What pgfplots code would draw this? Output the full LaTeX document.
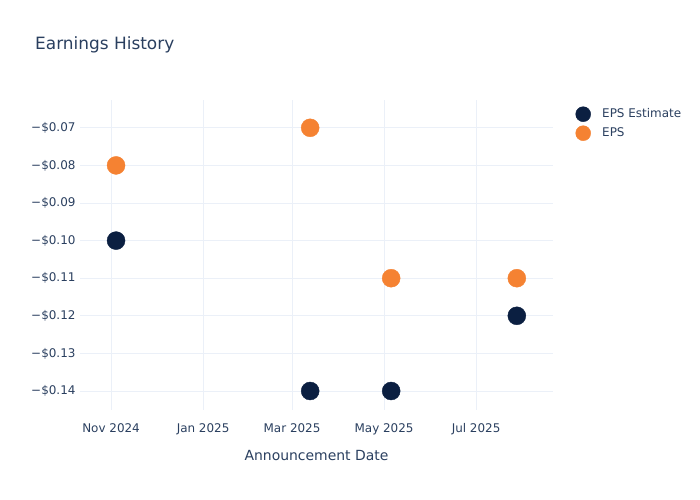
\documentclass[border=0pt]{standalone}
\usepackage{pgfplots}
\pgfplotsset{compat=1.18}
\usepackage{fontspec}
\setmainfont{DejaVu Sans}
\definecolor{txt}{HTML}{2A3F5F}
\definecolor{gridc}{HTML}{EBF0F8}
\definecolor{navy}{HTML}{0B1F41}
\definecolor{orng}{HTML}{F58232}
\begin{document}
\begin{tikzpicture}[x=1bp,y=1bp]
\useasboundingbox (0,0) rectangle (700,500);
\node[anchor=base west,font=\fontsize{17}{20}\selectfont,text=txt,inner sep=0] at (35,450) {Earnings History};
\begin{axis}[
  at={(80bp,90bp)}, anchor=south west,
  width=473bp, height=310bp, scale only axis,
  xmin=-20.6, xmax=293,
  ymin=-0.14505, ymax=-0.0626,
  axis line style={draw=none},
  tick style={draw=none},
  grid=major, grid style={gridc, line width=0.8pt},
  xtick={0,61,120,181,242},
  xticklabels={Nov 2024,Jan 2025,Mar 2025,May 2025,Jul 2025},
  ytick={-0.14,-0.13,-0.12,-0.11,-0.10,-0.09,-0.08,-0.07},
  yticklabels={−\$0.14,−\$0.13,−\$0.12,−\$0.11,−\$0.10,−\$0.09,−\$0.08,−\$0.07},
  ticklabel style={font=\fontsize{12}{14}\selectfont, text=txt},
  xticklabel style={yshift=-10bp},
  yticklabel style={xshift=-1bp},
  xlabel={Announcement Date},
  xlabel style={font=\fontsize{14}{16}\selectfont, text=txt, yshift=-8bp},
  legend style={at={(1.0465,0.9806)}, anchor=north west, draw=none, fill=none,
    font=\fontsize{12}{14}\selectfont, text=txt, row sep=3bp, inner sep=0pt,
    nodes={inner sep=0pt}},
  legend image code/.code={\path[draw=none,fill=none] (-8bp,-8bp) rectangle (19bp,8bp);
     \draw[mark size=7.5bp, mark=*] plot coordinates {(0bp,0bp)};},
  legend cell align=left,
  clip=false,
]
\addplot[only marks, mark=*, mark size=9bp, color=navy] coordinates {
 (3.3,-0.10) (132,-0.14) (185.7,-0.14) (269,-0.12)};
\addlegendentry{EPS Estimate}
\addplot[only marks, mark=*, mark size=9bp, color=orng] coordinates {
 (3.3,-0.08) (132,-0.07) (185.7,-0.11) (269,-0.11)};
\addlegendentry{EPS}
\end{axis}
\end{tikzpicture}
\end{document}
